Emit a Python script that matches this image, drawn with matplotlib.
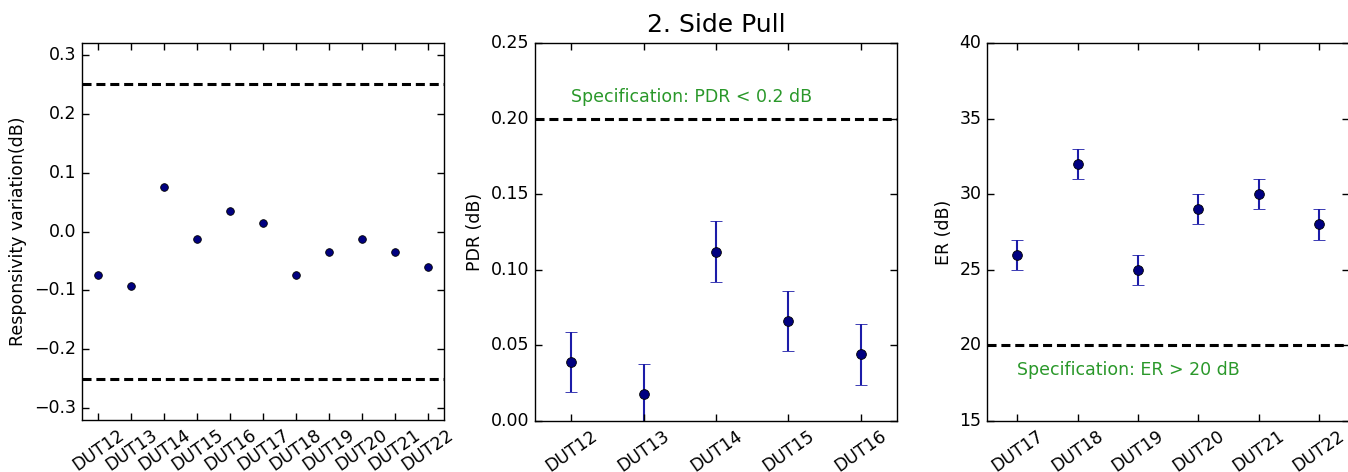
import numpy as np
import matplotlib
matplotlib.use('Agg')
import matplotlib.pyplot as plt

plt.style.use('classic')

# responsivity variation after side pull
resp_duts = ['DUT12', 'DUT13', 'DUT14', 'DUT15', 'DUT16', 'DUT17',
             'DUT18', 'DUT19', 'DUT20', 'DUT21', 'DUT22']
resp_var = [-0.074, -0.093, 0.076, -0.012, 0.034, 0.014,
            -0.073, -0.035, -0.012, -0.034, -0.061]
resp_limit = 0.25

# polarisation dependent response
pdr_duts = ['DUT12', 'DUT13', 'DUT14', 'DUT15', 'DUT16']
pdr = [0.039, 0.018, 0.112, 0.066, 0.044]
pdr_err = [0.02, 0.02, 0.02, 0.02, 0.02]
pdr_spec = 0.2

# extinction ratio
er_duts = ['DUT17', 'DUT18', 'DUT19', 'DUT20', 'DUT21', 'DUT22']
er = [26, 32, 25, 29, 30, 28]
er_err = [1, 1, 1, 1, 1, 1]
er_spec = 20

fs = 12.5
dot = '#000080'
bar = '#1c1ca8'
spec_col = '#2a982a'
dash = (6.5, 3.5)

fig = plt.figure(figsize=(13.48, 4.72), dpi=100, facecolor='white')
ax1 = fig.add_axes([0.0608, 0.110, 0.2686, 0.799])
ax2 = fig.add_axes([0.3969, 0.108, 0.2686, 0.801])
ax3 = fig.add_axes([0.7322, 0.108, 0.2686, 0.801])

# panel 1
x1 = np.arange(len(resp_duts))
ax1.plot(x1, resp_var, 'o', color=dot, mec='black', mew=0.6, ms=5.5)
ax1.axhline(resp_limit, color='k', lw=2.2, ls='--', dashes=dash)
ax1.axhline(-resp_limit, color='k', lw=2.2, ls='--', dashes=dash)
ax1.set_xlim(-0.5, len(resp_duts) - 0.5)
ax1.set_ylim(-0.32, 0.32)
ax1.set_yticks(np.arange(-0.3, 0.31, 0.1))
ax1.set_xticks(x1)
ax1.set_xticklabels(resp_duts, rotation=35, ha='center', fontsize=fs)
ax1.set_ylabel('Responsivity variation(dB)', fontsize=fs)

# panel 2
x2 = np.arange(len(pdr_duts))
ax2.errorbar(x2, pdr, yerr=pdr_err, fmt='o', color=dot, ecolor=bar,
             mec='black', mew=0.6, ms=7, elinewidth=1.5, capsize=4, capthick=1.5)
ax2.axhline(pdr_spec, color='k', lw=2.2, ls='--', dashes=dash)
ax2.text(0, 0.2143, 'Specification: PDR < 0.2 dB', color=spec_col,
         fontsize=fs, ha='left', va='center')
ax2.set_xlim(-0.5, len(pdr_duts) - 0.5)
ax2.set_ylim(0, 0.25)
ax2.set_yticks(np.arange(0, 0.251, 0.05))
ax2.set_xticks(x2)
ax2.set_xticklabels(pdr_duts, rotation=35, ha='center', fontsize=fs)
ax2.set_ylabel('PDR (dB)', fontsize=fs)
ax2.set_title('2. Side Pull', fontsize=18, y=1.01)

# panel 3
x3 = np.arange(len(er_duts))
ax3.errorbar(x3, er, yerr=er_err, fmt='o', color=dot, ecolor=bar,
             mec='black', mew=0.6, ms=7, elinewidth=1.5, capsize=4, capthick=1.5)
ax3.axhline(er_spec, color='k', lw=2.2, ls='--', dashes=dash)
ax3.text(0, 18.35, 'Specification: ER > 20 dB', color=spec_col,
         fontsize=fs, ha='left', va='center')
ax3.set_xlim(-0.5, len(er_duts) - 0.5)
ax3.set_ylim(15, 40)
ax3.set_xticks(x3)
ax3.set_xticklabels(er_duts, rotation=35, ha='center', fontsize=fs)
ax3.set_ylabel('ER (dB)', fontsize=fs)

for ax in (ax1, ax2, ax3):
    ax.tick_params(labelsize=fs, length=5, width=1)

fig.savefig('out.png', dpi=100, facecolor='white')
